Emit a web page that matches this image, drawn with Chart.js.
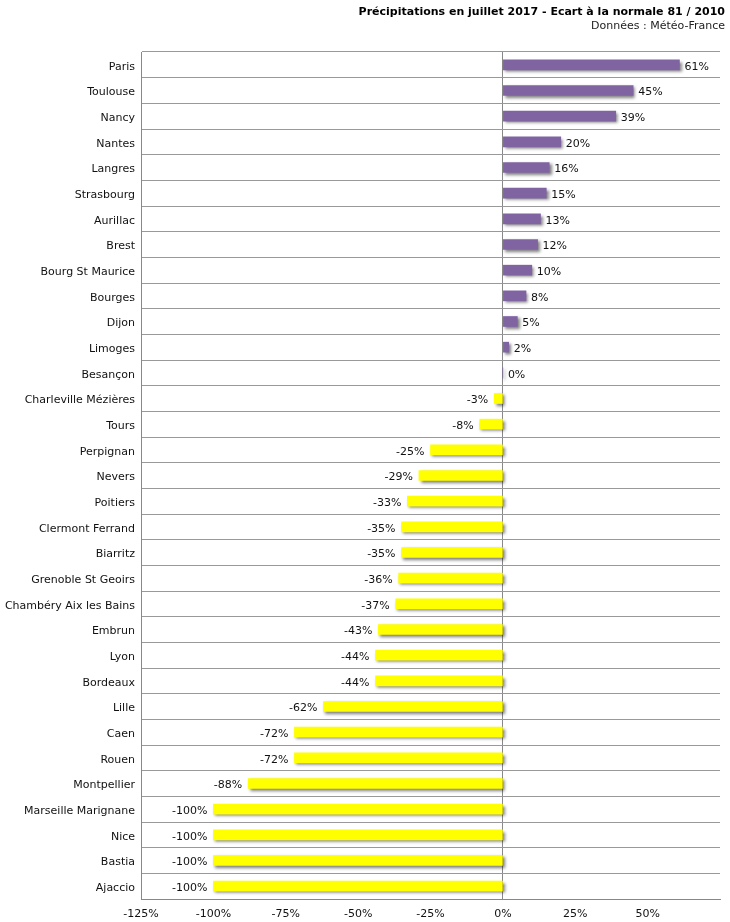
<!DOCTYPE html>
<html><head><meta charset="utf-8">
<script src="https://cdn.jsdelivr.net/npm/chart.js@4"></script>
<style>html,body{margin:0;padding:0;background:#fff}#wrap{width:730px;height:922px;position:relative}</style>
</head><body><div id="wrap"><canvas id="c"></canvas></div>
<script>
const cities = ["Paris","Toulouse","Nancy","Nantes","Langres","Strasbourg","Aurillac","Brest","Bourg St Maurice","Bourges","Dijon","Limoges","Besançon","Charleville Mézières","Tours","Perpignan","Nevers","Poitiers","Clermont Ferrand","Biarritz","Grenoble St Geoirs","Chambéry Aix les Bains","Embrun","Lyon","Bordeaux","Lille","Caen","Rouen","Montpellier","Marseille Marignane","Nice","Bastia","Ajaccio"];
const ecart = [61,45,39,20,16,15,13,12,10,8,5,2,0,-3,-8,-25,-29,-33,-35,-35,-36,-37,-43,-44,-44,-62,-72,-72,-88,-100,-100,-100,-100];
const xTicks = [-125,-100,-75,-50,-25,0,25,50];
const titleText = "Précipitations en juillet 2017 - Ecart à la normale 81 / 2010";
const subText = "Données : Météo-France";
const FONT = "DejaVu Sans";

const shadowPlugin = {
  id:'shadow',
  beforeDatasetsDraw(chart){const c=chart.ctx;c.save();c.shadowColor='rgba(0,0,0,0.5)';c.shadowBlur=3;c.shadowOffsetX=2;c.shadowOffsetY=2;},
  afterDatasetsDraw(chart){
    const c=chart.ctx;c.restore();
    const meta=chart.getDatasetMeta(0);
    c.save();c.font="11px '"+FONT+"'";c.fillStyle='#111';c.textBaseline='middle';
    meta.data.forEach((bar,i)=>{
      const v=ecart[i];const t=v+'%';
      if(v>=0){c.textAlign='left';c.fillText(t,bar.x+5,bar.y+2);}
      else{c.textAlign='right';c.fillText(t,bar.x-6,bar.y+2);}
    });
    c.restore();
  },
  afterDraw(chart){
    const c=chart.ctx;c.save();c.fillStyle='#000';c.textAlign='right';c.textBaseline='alphabetic';
    c.font="bold 11px '"+FONT+"'";c.fillText(titleText,725,15);
    c.font="11px '"+FONT+"'";c.fillStyle='#222';c.fillText(subText,725,29);
    c.restore();
  }
};

new Chart(document.getElementById('c'),{
  type:'bar',
  data:{labels:cities,datasets:[{data:ecart,
    backgroundColor:ecart.map(v=>v>=0?'#8064A2':'#FFFF00'),
    barThickness:10,borderWidth:0}]},
  options:{
    indexAxis:'y',responsive:true,maintainAspectRatio:false,animation:false,
    devicePixelRatio:1,
    layout:{padding:{top:52,right:10,left:0,bottom:0}},
    plugins:{legend:{display:false},tooltip:{enabled:false}},
    scales:{
      x:{min:-125,max:75,
        afterBuildTicks(s){s.ticks=xTicks.concat([75]).map(v=>({value:v}));},
        afterFit(s){s.height=23;},
        ticks:{callback:v=>v===75?'':v+'%',color:'#111',font:{family:FONT,size:11},padding:9,maxRotation:0},
        grid:{drawTicks:false,color:ctx=>ctx.tick&&ctx.tick.value===0?'#888':'rgba(0,0,0,0)',lineWidth:1},
        border:{color:'#888'}},
      y:{afterFit(s){s.width=141;},
        ticks:{color:'#111',font:{family:FONT,size:11},padding:6,autoSkip:false,labelOffset:2},
        grid:{drawTicks:false,offset:true,color:'#999'},
        border:{color:'#888'}}
    }
  },
  plugins:[shadowPlugin]
});
</script></body></html>
